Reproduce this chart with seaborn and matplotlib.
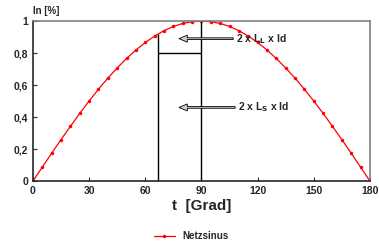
import numpy as np
import pandas as pd
import seaborn as sns
import matplotlib.pyplot as plt

sns.set_style('ticks')
plt.rcParams['font.family'] = ['Liberation Sans', 'DejaVu Sans']
plt.rcParams['font.weight'] = 'bold'

# Netzsinus, read every 5 degrees
t_deg = list(range(0, 185, 5))
netzsinus = [0.000, 0.087, 0.174, 0.259, 0.342, 0.423, 0.500, 0.574, 0.643,
             0.707, 0.766, 0.819, 0.866, 0.906, 0.940, 0.966, 0.985, 0.996,
             1.000, 0.996, 0.985, 0.966, 0.940, 0.906, 0.866, 0.819, 0.766,
             0.707, 0.643, 0.574, 0.500, 0.423, 0.342, 0.259, 0.174, 0.087,
             0.000]

# commutation box
box_x = [67, 90]
box_top = [0.92, 1.0]
box_mid = 0.8

x_ticks = [0, 30, 60, 90, 120, 150, 180]
y_ticks = [0, 0.2, 0.4, 0.6, 0.8, 1.0]
y_labels = ['0', '0,2', '0,4', '0,6', '0,8', '1']

df = pd.DataFrame({'t': t_deg, 'In': netzsinus, 'kurve': 'Netzsinus'})

fig = plt.figure(figsize=(3.79, 2.42), dpi=100)
ax = fig.add_axes([0.087, 0.252, 0.889, 0.661])

sns.lineplot(data=df, x='t', y='In', hue='kurve', palette=['red'],
             marker='o', markersize=2.5, markeredgewidth=0, linewidth=0.9,
             ax=ax, legend=True)

ax.vlines(box_x, [0, 0], box_top, color='black', linewidth=1.0)
ax.hlines(box_mid, box_x[0], box_x[1], color='black', linewidth=1.0)

arrow_kw = dict(arrowstyle='simple, head_length=0.6, head_width=0.5, tail_width=0.12',
                facecolor='#d0d0d0', edgecolor='black', linewidth=0.6,
                shrinkA=0, shrinkB=0)
ax.annotate('', xy=(78, 0.89), xytext=(107, 0.89), arrowprops=arrow_kw)
ax.annotate('', xy=(78, 0.46), xytext=(108, 0.46), arrowprops=arrow_kw)
ax.text(108.5, 0.89, r'2 x L$_\mathbf{L}$ x Id', fontsize=7.5, va='center')
ax.text(109.5, 0.46, r'2 x L$_\mathbf{S}$ x Id', fontsize=7.5, va='center')

ax.set_xlim(0, 180)
ax.set_ylim(0, 1)
ax.set_xticks(x_ticks)
ax.set_yticks(y_ticks, y_labels)
ax.tick_params(direction='in', length=3, labelsize=7.5, width=0.8)
ax.set_xlabel('t  [Grad]', fontsize=11, fontweight='bold', labelpad=2)
ax.set_ylabel('')
ax.text(0, 1.03, 'In [%]', transform=ax.transAxes, fontsize=7, va='bottom')

for side in ['left', 'bottom']:
    ax.spines[side].set_linewidth(1.2)
for side in ['top', 'right']:
    ax.spines[side].set_color('gray')
    ax.spines[side].set_linewidth(1.2)

ax.legend(loc='center', bbox_to_anchor=(0.47, -0.345), frameon=False,
          fontsize=7, handlelength=2.2, title=None)

fig.savefig('out.png', dpi=100)
